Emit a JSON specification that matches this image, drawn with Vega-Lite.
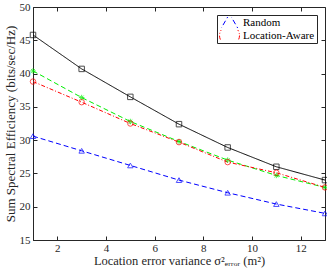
{
  "$schema": "https://vega.github.io/schema/vega-lite/v6.json",
  "width": 292,
  "height": 233,
  "autosize": "none",
  "padding": {"left": 33, "top": 7, "right": 2, "bottom": 33},
  "config": {
    "view": {"stroke": "#262626", "strokeWidth": 1},
    "font": "Liberation Serif",
    "axis": {
      "labelFont": "Liberation Serif",
      "titleFont": "Liberation Serif",
      "labelFontSize": 11,
      "titleFontSize": 13,
      "labelColor": "#262626",
      "titleColor": "#262626",
      "domainColor": "#262626",
      "tickColor": "#262626",
      "tickSize": -4,
      "grid": false,
      "titleFontWeight": "normal"
    }
  },
  "data": {
    "values": [
      {"x": 1, "y": 45.8, "s": "Perfect"},
      {"x": 3, "y": 40.7, "s": "Perfect"},
      {"x": 5, "y": 36.5, "s": "Perfect"},
      {"x": 7, "y": 32.4, "s": "Perfect"},
      {"x": 9, "y": 28.9, "s": "Perfect"},
      {"x": 11, "y": 26.0, "s": "Perfect"},
      {"x": 13, "y": 24.0, "s": "Perfect"},
      {"x": 1, "y": 40.4, "s": "Exact"},
      {"x": 3, "y": 36.4, "s": "Exact"},
      {"x": 5, "y": 32.8, "s": "Exact"},
      {"x": 7, "y": 29.8, "s": "Exact"},
      {"x": 9, "y": 27.0, "s": "Exact"},
      {"x": 11, "y": 24.7, "s": "Exact"},
      {"x": 13, "y": 22.9, "s": "Exact"},
      {"x": 1, "y": 38.8, "s": "Location-Aware"},
      {"x": 3, "y": 35.7, "s": "Location-Aware"},
      {"x": 5, "y": 32.5, "s": "Location-Aware"},
      {"x": 7, "y": 29.7, "s": "Location-Aware"},
      {"x": 9, "y": 26.7, "s": "Location-Aware"},
      {"x": 11, "y": 25.1, "s": "Location-Aware"},
      {"x": 13, "y": 22.9, "s": "Location-Aware"},
      {"x": 1, "y": 30.6, "s": "Random"},
      {"x": 3, "y": 28.4, "s": "Random"},
      {"x": 5, "y": 26.2, "s": "Random"},
      {"x": 7, "y": 24.0, "s": "Random"},
      {"x": 9, "y": 22.1, "s": "Random"},
      {"x": 11, "y": 20.4, "s": "Random"},
      {"x": 13, "y": 19.0, "s": "Random"}
    ]
  },
  "resolve": {"axis": {"x": "independent", "y": "independent"}},
  "layer": [
    {
      "mark": {"type": "line", "strokeWidth": 1},
      "encoding": {
        "x": {"field": "x", "type": "quantitative", "scale": {"domain": [1, 13], "nice": false, "zero": false},
          "axis": {"values": [2, 4, 6, 8, 10, 12], "title": "Location error variance σ²ₑᵣᵣₒᵣ (m²)", "titleFontSize": 12.5, "titlePadding": 1, "labelPadding": 6}},
        "y": {"field": "y", "type": "quantitative", "scale": {"domain": [15, 50], "nice": false, "zero": false},
          "axis": {"values": [15, 20, 25, 30, 35, 40, 45, 50], "title": "Sum Spectral Efficiency (bits/sec/Hz)", "titlePadding": 2, "labelPadding": 7}},
        "color": {"field": "s", "type": "nominal",
          "scale": {"domain": ["Random", "Location-Aware", "Perfect", "Exact"], "range": ["#0000ff", "#ff0000", "#000000", "#00ee00"]},
          "legend": {
            "values": ["Random", "Location-Aware"],
            "title": null,
            "orient": "top-right",
            "offset": 8,
            "fillColor": "white",
            "strokeColor": "#262626",
            "padding": 2,
            "labelFont": "Liberation Serif",
            "labelFontSize": 11,
            "labelColor": "#000000",
            "symbolSize": 400,
            "clipHeight": 11,
            "rowPadding": 1,
            "labelOffset": 3,
            "encode": {
              "symbols": {
                "update": {
                  "shape": {"signal": "datum.value === 'Random' ? 'M-1,0L-0.75,0M-0.6,0L-0.35,0M0.35,0L0.6,0M0.75,0L1,0M-0.2,0L0.2,0M0,-0.26L0.24,0.17L-0.24,0.17Z' : 'M-1,0L-0.75,0M-0.65,0L-0.6,0M-0.5,0L-0.26,0M0.26,0L0.5,0M0.6,0L0.65,0M0.75,0L1,0M0.23,0A0.23,0.23 0 1,1 -0.23,0A0.23,0.23 0 1,1 0.23,0'"},
                  "stroke": {"signal": "datum.value === 'Random' ? '#0000ff' : '#ff0000'"},
                  "fill": {"value": "transparent"},
                  "strokeWidth": {"value": 1},
                  "size": {"value": 400}
                }
              }
            }
          }},
        "strokeDash": {"field": "s", "type": "nominal",
          "scale": {"domain": ["Random", "Location-Aware", "Perfect", "Exact"], "range": [[5, 3], [4, 2, 1, 2], [1, 0], [5, 3]]},
          "legend": null}
      }
    },
    {
      "mark": {"type": "point", "filled": false, "size": 30, "strokeWidth": 1},
      "encoding": {
        "x": {"field": "x", "type": "quantitative", "axis": {"orient": "top", "labels": false, "title": null, "values": [2, 4, 6, 8, 10, 12], "domain": false}},
        "y": {"field": "y", "type": "quantitative", "axis": {"orient": "right", "labels": false, "title": null, "values": [15, 20, 25, 30, 35, 40, 45, 50], "domain": false}},
        "color": {"field": "s", "type": "nominal", "legend": null},
        "shape": {"field": "s", "type": "nominal",
          "scale": {"domain": ["Random", "Location-Aware", "Perfect", "Exact"], "range": ["triangle-up", "circle", "square", "M-1,0L1,0M0,-1L0,1M-0.7,-0.7L0.7,0.7M-0.7,0.7L0.7,-0.7"]},
          "legend": null}
      }
    }
  ]
}
